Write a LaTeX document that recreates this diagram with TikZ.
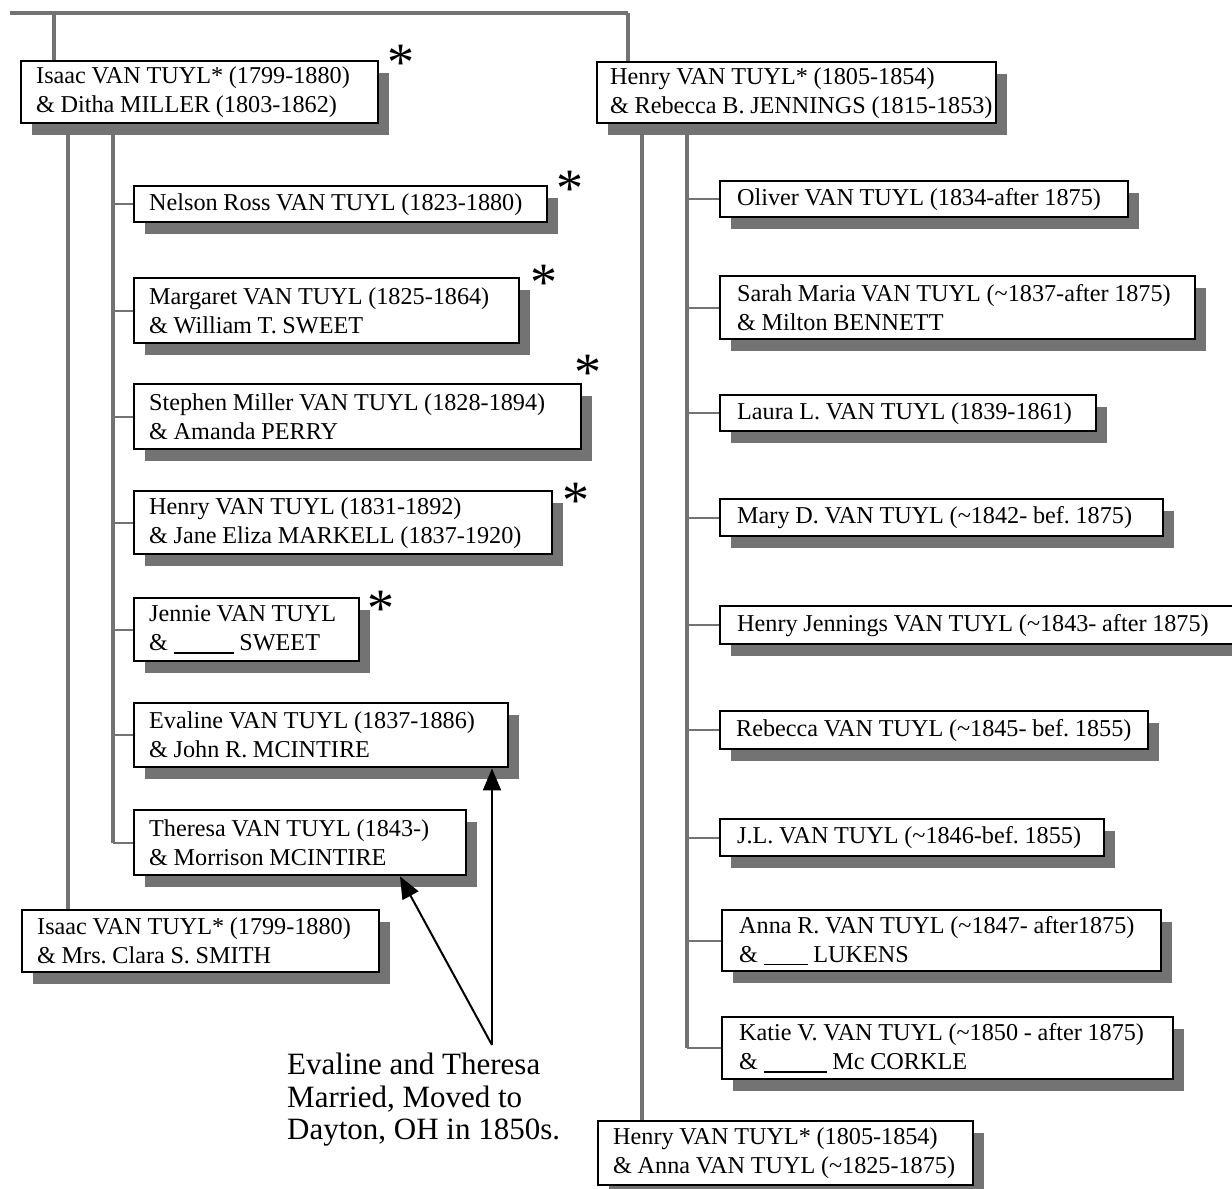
\documentclass[tikz,border=0pt]{standalone}
\usepackage{fontspec}
\setmainfont{Liberation Serif}
\usetikzlibrary{shadows,arrows.meta,calc}
\pgfdeclarelayer{background}
\pgfsetlayers{background,main}
\newcommand\oneline[1]{\mbox{#1}}
\newcommand\blank[1]{\rule[-3pt]{#1}{1.3pt}}
\newcommand\tightspaces{\frenchspacing\spaceskip=0.235em plus 0.05em minus 0.05em\relax}
\tikzset{
  pbox/.style={draw=black, line width=2.4pt, fill=white, anchor=north west,
    inner xsep=15pt, inner ysep=0pt, align=left,
    font=\fontsize{24.2}{29}\selectfont,
    execute at begin node=\tightspaces,
    drop shadow={shadow xshift=11pt, shadow yshift=-12pt, fill=black!55, opacity=1}},
  conn/.style={draw=black!55, line width=3.5pt},
  stub/.style={draw=black!55, line width=2.2pt},
  star/.style={font=\fontsize{54}{54}\selectfont, inner sep=0pt},
  arr/.style={draw=black, line width=2pt, -{Triangle[length=22pt,width=18pt]}},
  note/.style={anchor=north west, align=left, inner sep=0pt,
    font=\fontsize{31}{32.5}\selectfont}
}
\begin{document}
\begin{tikzpicture}[x=1pt,y=-1pt]
\useasboundingbox (0,0) rectangle (1232,1189);

% ---------- left family ----------
\node[pbox, text width=327pt, minimum height=62pt] (isaac1) at (20,60)
  {\oneline{Isaac VAN TUYL* (1799-1880)}\\\oneline{\& Ditha MILLER (1803-1862)}};
\node[pbox, text width=383pt, minimum height=36pt] (nelson) at (133,185)
  {\oneline{Nelson Ross VAN TUYL (1823-1880)}};
\node[pbox, text width=355pt, minimum height=65pt] (margaret) at (133,277)
  {\oneline{Margaret VAN TUYL (1825-1864)}\\\oneline{\& William T. SWEET}};
\node[pbox, text width=417pt, minimum height=65pt] (stephen) at (133,383)
  {\oneline{Stephen Miller VAN TUYL (1828-1894)}\\\oneline{\& Amanda PERRY}};
\node[pbox, text width=388pt, minimum height=63pt] (henryvt) at (133,490)
  {\oneline{Henry VAN TUYL (1831-1892)}\\\oneline{\& Jane Eliza MARKELL (1837-1920)}};
\node[pbox, text width=195pt, minimum height=63pt] (jennie) at (133,597)
  {\oneline{Jennie VAN TUYL}\\\oneline{\& \blank{60pt} SWEET}};
\node[pbox, text width=344pt, minimum height=64pt] (evaline) at (133,702)
  {\oneline{Evaline VAN TUYL (1837-1886)}\\\oneline{\& John R. MCINTIRE}};
\node[pbox, text width=302pt, minimum height=65pt] (theresa) at (133,809)
  {\oneline{Theresa VAN TUYL (1843-)}\\\oneline{\& Morrison MCINTIRE}};
\node[pbox, text width=327pt, minimum height=62pt] (isaac2) at (21,909)
  {\oneline{Isaac VAN TUYL* (1799-1880)}\\\oneline{\& Mrs. Clara S. SMITH}};

% ---------- right family ----------
\node[pbox, inner xsep=13pt, text width=373pt, minimum height=61pt] (henry1) at (596,61)
  {\oneline{Henry VAN TUYL* (1805-1854)}\\\oneline{\& Rebecca B. JENNINGS (1815-1853)}};
\node[pbox, inner xsep=17pt, text width=374pt, minimum height=36pt] (oliver) at (719,180)
  {\oneline{Oliver VAN TUYL (1834-after 1875)}};
\node[pbox, inner xsep=17pt, text width=441pt, minimum height=63pt] (sarah) at (719,275)
  {\oneline{Sarah Maria VAN TUYL (\textasciitilde1837-after 1875)}\\\oneline{\& Milton BENNETT}};
\node[pbox, inner xsep=17pt, text width=342pt, minimum height=36pt] (laura) at (719,394)
  {\oneline{Laura L. VAN TUYL (1839-1861)}};
\node[pbox, inner xsep=17pt, text width=409pt, minimum height=37pt] (mary) at (719,498)
  {\oneline{Mary D. VAN TUYL (\textasciitilde1842- bef. 1875)}};
\node[pbox, inner xsep=17pt, text width=496pt, minimum height=38pt] (henryj) at (719,605)
  {\oneline{Henry Jennings VAN TUYL (\textasciitilde1843- after 1875)}};
\node[pbox, inner xsep=16pt, text width=396pt, minimum height=38pt] (rebecca) at (719,710)
  {\oneline{Rebecca VAN TUYL (\textasciitilde1845- bef. 1855)}};
\node[pbox, inner xsep=17pt, text width=350pt, minimum height=37pt] (jl) at (719,818)
  {\oneline{J.L. VAN TUYL (\textasciitilde1846-bef. 1855)}};
\node[pbox, inner xsep=17pt, text width=405pt, minimum height=61pt] (annar) at (721,909)
  {\oneline{Anna R. VAN TUYL (\textasciitilde1847- after1875)}\\\oneline{\& \blank{44pt} LUKENS}};
\node[pbox, inner xsep=17pt, text width=417pt, minimum height=62pt] (katie) at (721,1016)
  {\oneline{Katie V. VAN TUYL (\textasciitilde1850 - after 1875)}\\\oneline{\& \blank{63pt} Mc CORKLE}};
\node[pbox, text width=345pt, minimum height=64pt] (henry2) at (597,1120)
  {\oneline{Henry VAN TUYL* (1805-1854)}\\\oneline{\& Anna VAN TUYL (\textasciitilde1825-1875)}};

% ---------- asterisks ----------
\node[star] (s1) at (401,63) {*};
\node[star] (s2) at (570,189) {*};
\node[star] (s3) at (544,283) {*};
\node[star] (s4) at (588,373) {*};
\node[star] (s5) at (576,501) {*};
\node[star] (s6) at (381,609) {*};

% ---------- note and arrows ----------
\node[note] (note) at (287,1053)
  {Evaline and Theresa\\Married, Moved to\\Dayton, OH in 1850s.};
\coordinate (apex) at (492,1045);
\coordinate (tipx) at (400,0);
\draw[arr] (apex) -- (evaline.south -| apex);
\draw[arr] (apex) -- (theresa.south -| tipx);

% ---------- connectors ----------
\coordinate (topL) at (54,13);
\coordinate (topR) at (628,13);
\coordinate (trL) at (68,0);
\coordinate (scL) at (113,0);
\coordinate (trR) at (642,0);
\coordinate (scR) at (687,0);
\begin{pgfonlayer}{background}
  \fill[white] (0,0) rectangle (1232,1189);
  \draw[conn] (10,13) -- (topR);
  \draw[conn] (topL) -- (isaac1.north -| topL);
  \draw[conn] (topR) -- (henry1.north -| topR);
  \draw[conn] (isaac1.south -| trL) -- (isaac2.north -| trL);
  \draw[conn] (isaac1.south -| scL) -- (theresa.west -| scL);
  \foreach \n in {nelson,margaret,stephen,henryvt,jennie,evaline,theresa}
    \draw[stub] (\n.west -| scL) -- (\n.west);
  \draw[conn] (henry1.south -| trR) -- (henry2.north -| trR);
  \draw[conn] (henry1.south -| scR) -- (katie.west -| scR);
  \foreach \n in {oliver,sarah,laura,mary,henryj,rebecca,jl,annar,katie}
    \draw[stub] (\n.west -| scR) -- (\n.west);
\end{pgfonlayer}
\end{tikzpicture}
\end{document}
